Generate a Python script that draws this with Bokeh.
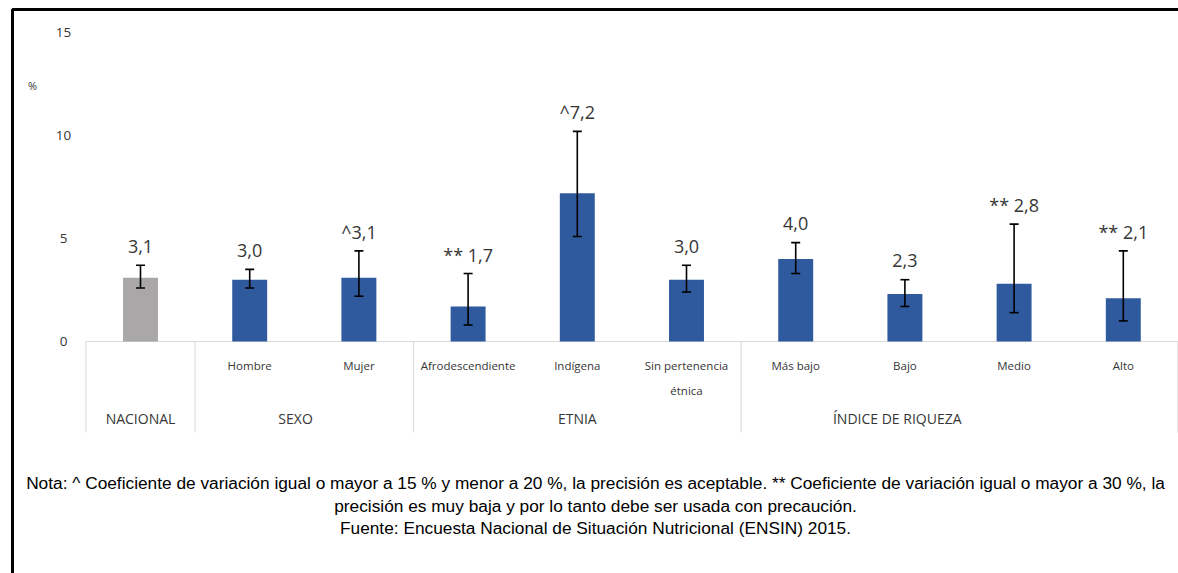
from bokeh.plotting import figure
from bokeh.models import ColumnDataSource, Range1d, Whisker, TeeHead
from bokeh.core.properties import value
from bokeh.embed import file_html
from bokeh.resources import INLINE

# ---------------- data ----------------
categories = ["", "Hombre", "Mujer", "Afrodescendiente", "Indígena",
              "Sin pertenencia\nétnica", "Más bajo", "Bajo", "Medio", "Alto"]
groups = ["NACIONAL", "SEXO", "ETNIA", "ÍNDICE DE RIQUEZA"]
group_sizes = [1, 2, 3, 4]
values = [3.1, 3.0, 3.1, 1.7, 7.2, 3.0, 4.0, 2.3, 2.8, 2.1]
lower = [2.6, 2.6, 2.2, 0.8, 5.1, 2.4, 3.3, 1.7, 1.4, 1.0]
upper = [3.7, 3.5, 4.4, 3.3, 10.2, 3.7, 4.8, 3.0, 5.7, 4.4]
flags = ["", "", "^", "** ", "^", "", "", "", "** ", "** "]
y_ticks = [0, 5, 10, 15]

# ---------------- layout ----------------
W, H = 1178, 573
X0_PX, X_STEP = 140.0, 109.2     # pixel of first category, pixels per category
Y0_PX, Y_STEP = 341.0, 20.6      # pixel of 0 %, pixels per unit

def dx(px):
    return (px - X0_PX) / X_STEP

def dy(py):
    return (Y0_PX - py) / Y_STEP

TXT = "#363636"
FONT = value("Open Sans")

p = figure(width=W, height=H, output_backend="svg", toolbar_location=None,
           x_range=Range1d(dx(0), dx(W)), y_range=Range1d(dy(H), dy(0)),
           min_border=0, tools="")
p.axis.visible = False
p.grid.visible = False
p.outline_line_color = None
p.background_fill_color = "white"
p.border_fill_color = "white"

n = len(values)
xs = list(range(n))
colors = ["#A9A7A7"] + ["#2F5A9E"] * (n - 1)
labels = [f + f"{v:.1f}".replace(".", ",") for f, v in zip(flags, values)]

src = ColumnDataSource(dict(x=xs, top=values, lower=lower, upper=upper,
                            color=colors, label=labels, cat=categories))

# axis baseline and group separators
bounds = [-0.5]
for s in group_sizes:
    bounds.append(bounds[-1] + s)
p.segment(x0=[bounds[0]], y0=[0], x1=[dx(W + 5)], y1=[0], line_color="#D9D9D9", line_width=1)
p.segment(x0=bounds, y0=[0] * len(bounds), x1=bounds, y1=[dy(432)] * len(bounds),
          line_color="#D9D9D9", line_width=1)

# bars
p.vbar(x="x", top="top", bottom=0, width=0.32, fill_color="color", line_color=None, source=src)

# error bars
wh = Whisker(base="x", upper="upper", lower="lower", source=src,
             line_color="black", line_width=1.6, level="overlay",
             upper_head=TeeHead(size=9, line_color="black", line_width=1.6),
             lower_head=TeeHead(size=9, line_color="black", line_width=1.6))
p.add_layout(wh)

# value labels
p.text(x="x", y="upper", text="label", source=src, text_font=FONT,
       text_font_size="18px", text_color=TXT, text_align="center",
       text_baseline="middle", y_offset=-19)

# category labels
p.text(x="x", y=dy(357), text="cat", source=src, text_font=FONT,
       text_font_size="11.5px", text_color=TXT, text_align="center",
       text_baseline="top", text_line_height=1.7)

# group labels
group_label_x = [0.0, 1.42, 4.0, 6.93]
p.text(x=group_label_x, y=[dy(418)] * len(groups), text=groups, text_font=FONT,
       text_font_size="14px", text_color=TXT, text_align="center",
       text_baseline="middle")

# y tick labels
p.text(x=[dx(63)] * len(y_ticks), y=y_ticks, text=[str(t) for t in y_ticks],
       text_font=FONT, text_font_size="13.5px", text_color=TXT,
       text_align="center", text_baseline="middle")
p.text(x=[dx(32)], y=[dy(85)], text=["%"], text_font=FONT, text_font_size="11px",
       text_color=TXT, text_align="center", text_baseline="middle")

# note
notes = ["Nota: ^ Coeficiente de variación igual o mayor a 15 % y menor a 20 %, la precisión es aceptable. ** Coeficiente de variación igual o mayor a 30 %, la",
         "precisión es muy baja y por lo tanto debe ser usada con precaución.",
         "Fuente: Encuesta Nacional de Situación Nutricional (ENSIN) 2015."]
p.text(x=[dx(595)] * 3, y=[dy(482), dy(505), dy(527)], text=notes,
       text_font=value("Liberation Sans"), text_font_size="17.3px", text_color="black",
       text_align="center", text_baseline="middle")

# frame border (left and top)
p.line(x=[dx(12), dx(12), dx(W + 5)], y=[dy(H + 5), dy(9), dy(9)],
       line_color="black", line_width=3)

open("out.html", "w").write(file_html(p, INLINE))
